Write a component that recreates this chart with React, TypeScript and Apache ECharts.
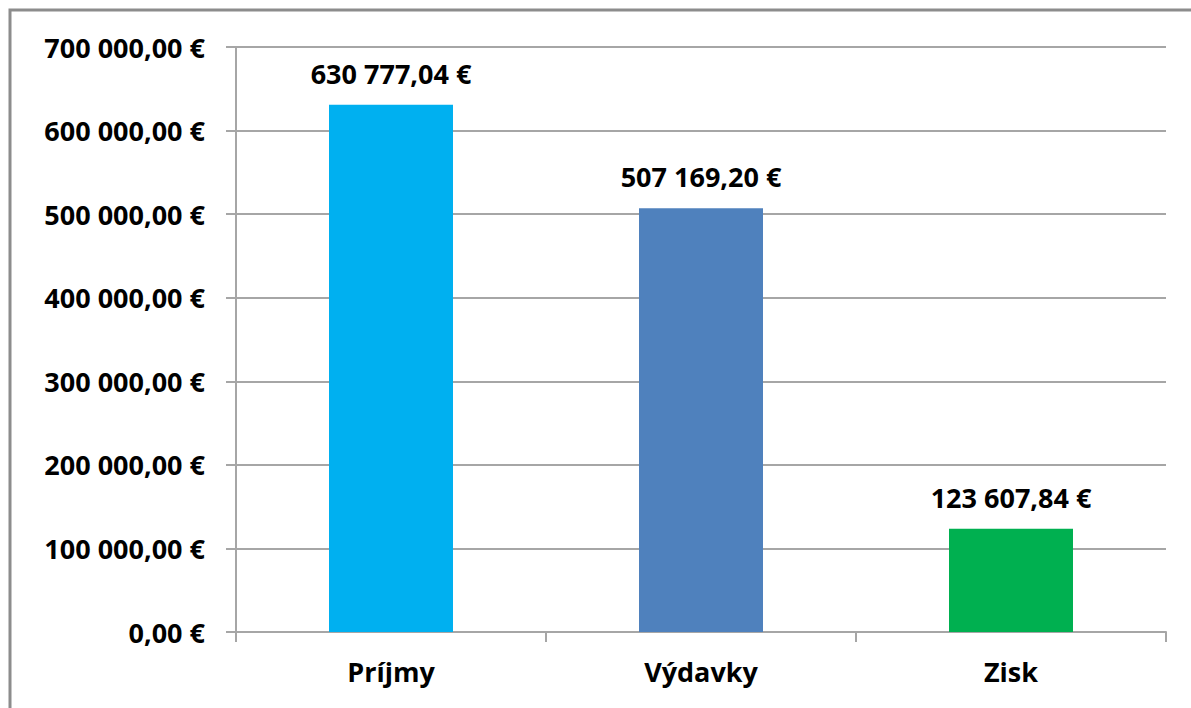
import React, { useEffect, useRef } from "react";
import * as echarts from "echarts";

const categories = ["Príjmy", "Výdavky", "Zisk"];
const values = [630777.04, 507169.2, 123607.84];
const barColors = ["#00B0F0", "#4F81BD", "#00B050"];
const yTicks = { min: 0, max: 700000, interval: 100000 };

function fmt(v: number): string {
  const fixed = v.toFixed(2);
  const [intPart, dec] = fixed.split(".");
  const withSpaces = intPart.replace(/\B(?=(\d{3})+(?!\d))/g, " ");
  return withSpaces + "," + dec + " €";
}

const FONT = "'Open Sans', Lato, sans-serif";
const FS = 27;

export default function App() {
  const ref = useRef<HTMLDivElement>(null);
  useEffect(() => {
    document.body.style.margin = "0";
    const chart = echarts.init(ref.current!, null, { renderer: "svg" });
    chart.setOption({
      animation: false,
      backgroundColor: "#ffffff",
      grid: { left: 236, right: 25, top: 47, bottom: 76, containLabel: false },
      graphic: [
        {
          type: "rect",
          shape: { x: 10, y: 10, width: 1400, height: 900 },
          style: { fill: "none", stroke: "#8C8C8C", lineWidth: 3 },
          silent: true,
          z: 100,
        },
      ],
      xAxis: {
        type: "category",
        data: categories,
        axisLine: { lineStyle: { color: "#A6A6A6", width: 2 } },
        axisTick: { show: true, length: 10, interval: 0, lineStyle: { color: "#A6A6A6", width: 2 } },
        axisLabel: {
          fontFamily: FONT,
          fontWeight: "bold",
          fontSize: FS,
          color: "#000",
          margin: 26,
        },
      },
      yAxis: {
        type: "value",
        min: yTicks.min,
        max: yTicks.max,
        interval: yTicks.interval,
        axisLine: { show: true, lineStyle: { color: "#A6A6A6", width: 2 } },
        axisTick: { show: true, length: 10, lineStyle: { color: "#A6A6A6", width: 2 } },
        splitLine: { lineStyle: { color: "#A6A6A6", width: 2 } },
        axisLabel: {
          fontFamily: FONT,
          fontWeight: "bold",
          fontSize: FS,
          color: "#000",
          margin: 31,
          formatter: (v: number) => fmt(v),
        },
      },
      series: [
        {
          type: "bar",
          barWidth: "40%",
          data: values.map((v, i) => ({ value: v, itemStyle: { color: barColors[i] } })),
          label: {
            show: true,
            position: "top",
            distance: 18,
            fontFamily: FONT,
            fontWeight: "bold",
            fontSize: FS,
            color: "#000",
            formatter: (p: any) => fmt(p.value),
          },
        },
      ],
    });
    return () => chart.dispose();
  }, []);
  return <div ref={ref} style={{ width: 1191, height: 708 }} />;
}
